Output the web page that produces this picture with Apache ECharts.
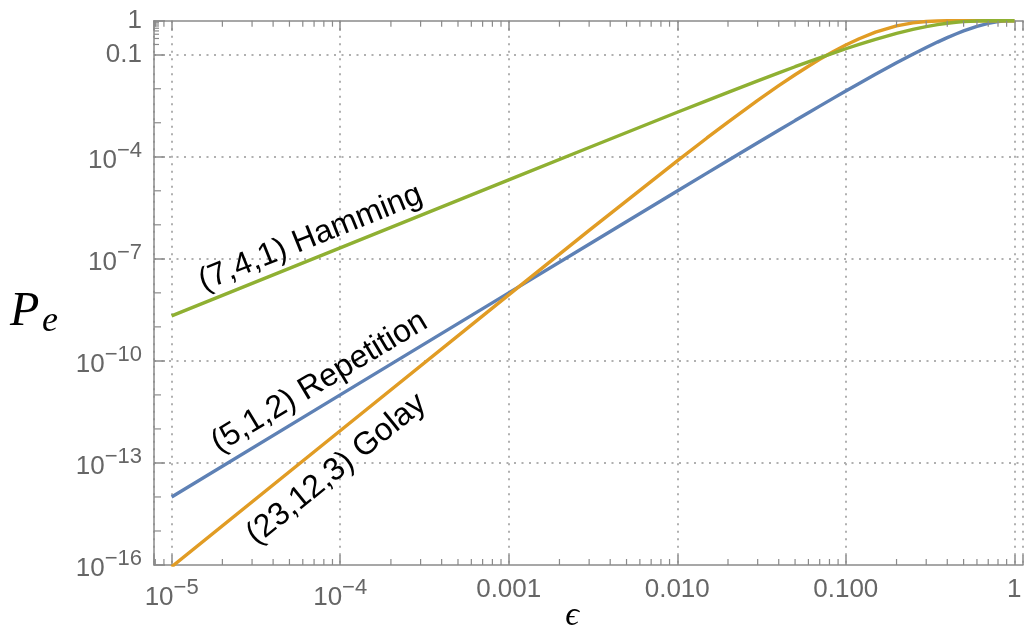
<!DOCTYPE html>
<html>
<head>
<meta charset="utf-8">
<script src="https://cdn.jsdelivr.net/npm/echarts@6/dist/echarts.min.js"></script>
<style>
  html, body { margin: 0; padding: 0; background: #fff; }
  #main { width: 1026px; height: 629px; }
</style>
</head>
<body>
<div id="main"></div>
<script>
// bit error rate eps and block error probability Pe
var eps = [1e-5, 1e-4, 1e-3, 3e-3, 0.01, 0.015, 0.02, 0.03, 0.04, 0.05,
           0.06, 0.07, 0.085, 0.1, 0.12, 0.15, 0.2, 0.25, 0.3, 0.35,
           0.4, 0.45, 0.5, 0.6, 0.7, 0.8, 0.9, 1];
var repetition = [1.0e-14, 1.0e-11, 9.985e-9, 2.688e-7, 9.851e-6, 3.300e-5, 7.762e-5, 2.580e-4, 6.022e-4, 1.158e-3,
                  1.970e-3, 3.080e-3, 5.385e-3, 8.56e-3, 0.01432, 0.02661, 0.05792, 0.1035, 0.1631, 0.2352,
                  0.3174, 0.4069, 0.5, 0.6826, 0.8369, 0.9421, 0.9914, 1];
var golay = [8.85e-17, 8.84e-13, 8.721e-9, 6.853e-7, 7.605e-5, 3.568e-4, 1.045e-3, 4.541e-3, 0.01232, 0.02583,
             0.04596, 0.07313, 0.1264, 0.1927, 0.2953, 0.4603, 0.7035, 0.8630, 0.9462, 0.9819,
             0.9948, 0.99876, 0.99976, 0.999995, 1, 1, 1, 1];
var hamming = [2.1e-9, 2.1e-7, 2.093e-5, 1.871e-4, 2.031e-3, 4.489e-3, 7.857e-3, 0.01709, 0.02938, 0.04438,
               0.06178, 0.08127, 0.1138, 0.1497, 0.2012, 0.2834, 0.4233, 0.5551, 0.6706, 0.7662,
               0.8414, 0.8976, 0.9375, 0.9812, 0.9962, 0.9996, 0.99999, 1];

var curveNames = ['(5,1,2) Repetition', '(23,12,3) Golay', '(7,4,1) Hamming'];
var curveValues = [repetition, golay, hamming];
var curveColors = ['#5e81b5', '#e19c24', '#8fb032'];

// label placement along each curve (eps, Pe) and slant in degrees
var labelAnchors = [[7.53e-5, 2.36e-11], [9.5e-5, 6.5e-14], [6.67e-5, 4.06e-7]];
var labelAngles = [31, 39, 22];

// axes
var X_MIN = 7.858e-6, X_MAX = 1.1256;
var Y_MIN = 1e-16, Y_MAX = 1;
var xTickExps = [-5, -4, -3, -2, -1, 0];
var xTickTexts = ['10^−5', '10^−4', '0.001', '0.010', '0.100', '1'];
var yTickExps = [-16, -13, -10, -7, -4, -1, 0];
var yTickTexts = ['10^−16', '10^−13', '10^−10', '10^−7', '10^−4', '0.1', '1'];

// small ticks
var minorMults = [2, 3, 4, 5, 6, 7, 8, 9];
var minorDecades = [1e-5, 1e-4, 1e-3, 1e-2, 1e-1];
var xLeadTicks = [8e-6, 9e-6];
var yDecadeTicks = [1e-15, 1e-14, 1e-12, 1e-11, 1e-9, 1e-8, 1e-6, 1e-5, 1e-3, 1e-2];
var ySubTicks = [0.2, 0.3, 0.4, 0.5, 0.6, 0.7, 0.8, 0.9];

var AXIS_COLOR = '#8a8a8a';
var LABEL_COLOR = '#666';
var FONT = 'Liberation Sans';

function tickText(txt) {
  if (txt.indexOf('^') >= 0) {
    var parts = txt.split('^');
    return '{b|' + parts[0] + '}{s|' + parts[1] + '}';
  }
  return '{p|' + txt + '}';
}

function labelFor(exps, texts) {
  return function (v) {
    var r = Math.round(v);
    if (Math.abs(v - r) > 1e-6) return '';
    var i = exps.indexOf(r);
    return i < 0 ? '' : tickText(texts[i]);
  };
}

var richTicks = {
  p: { fontSize: 26, lineHeight: 26, fontFamily: FONT, color: LABEL_COLOR },
  b: { fontSize: 26, lineHeight: 34, verticalAlign: 'bottom', fontFamily: FONT, color: LABEL_COLOR },
  s: { fontSize: 22, verticalAlign: 'top', fontFamily: FONT, color: LABEL_COLOR }
};

var dotted = { color: '#b0b0b0', width: 2, type: [2, 5.5] };

// minor tick items: [value, kind]  kind 1 bottom, 2 top, 3 y decade, 4 y sub
var tickData = [];
xLeadTicks.forEach(function (v) { tickData.push([v, 1], [v, 2]); });
minorDecades.forEach(function (d) {
  minorMults.forEach(function (m) { tickData.push([m * d, 1], [m * d, 2]); });
});
yDecadeTicks.forEach(function (v) { tickData.push([v, 3]); });
ySubTicks.forEach(function (v) { tickData.push([v, 4]); });

function renderTick(params, api) {
  var v = api.value(0), kind = api.value(1);
  var p, q;
  if (kind === 1) { p = api.coord([v, Y_MIN]); q = [p[0], p[1] - 6]; }
  else if (kind === 2) { p = api.coord([v, Y_MAX]); q = [p[0], p[1] + 6]; }
  else { p = api.coord([X_MIN, v]); q = [p[0] + (kind === 3 ? 7 : 5), p[1]]; }
  return {
    type: 'line',
    shape: { x1: p[0], y1: p[1], x2: q[0], y2: q[1] },
    style: { stroke: AXIS_COLOR, lineWidth: 1.2 }
  };
}

var series = curveNames.map(function (name, k) {
  return {
    type: 'line',
    name: name,
    xAxisIndex: 0,
    yAxisIndex: 0,
    data: eps.map(function (e, i) { return [e, curveValues[k][i]]; }),
    showSymbol: false,
    symbol: 'none',
    lineStyle: { color: curveColors[k], width: 3.4 },
    itemStyle: { color: curveColors[k] },
    clip: true,
    z: 3
  };
});

series.push({
  type: 'scatter',
  xAxisIndex: 0,
  yAxisIndex: 0,
  symbolSize: 0,
  silent: true,
  z: 6,
  itemStyle: { opacity: 1 },
  data: labelAnchors.map(function (a, i) {
    return { name: curveNames[i], value: a, label: { rotate: labelAngles[i] } };
  }),
  label: {
    show: true,
    position: 'inside',
    formatter: '{b}',
    color: '#000',
    opacity: 1,
    textBorderWidth: 0,
    fontSize: 32,
    fontFamily: FONT
  }
});

series.push({
  type: 'custom',
  xAxisIndex: 0,
  yAxisIndex: 0,
  silent: true,
  clip: false,
  z: 4,
  data: tickData,
  renderItem: renderTick
});

var myChart = echarts.init(document.getElementById('main'));
myChart.setOption({
  animation: false,
  backgroundColor: '#fff',
  grid: { left: 154, right: 0, top: 20.7, bottom: 64 },
  xAxis: [
    {
      type: 'log', position: 'bottom', min: X_MIN, max: X_MAX, show: false
    },
    {
      type: 'value', position: 'bottom',
      min: Math.log10(X_MIN), max: Math.log10(X_MAX), splitNumber: 5,
      axisLine: { onZero: false, lineStyle: { color: AXIS_COLOR, width: 1.5 } },
      axisTick: { inside: true, length: 10, lineStyle: { color: AXIS_COLOR, width: 1.5 } },
      axisLabel: { margin: 12, formatter: labelFor(xTickExps, xTickTexts), rich: richTicks },
      splitLine: { show: true, lineStyle: dotted }
    },
    {
      type: 'value', position: 'top',
      min: Math.log10(X_MIN), max: Math.log10(X_MAX), splitNumber: 5,
      axisLine: { onZero: false, lineStyle: { color: AXIS_COLOR, width: 1.5 } },
      axisTick: { inside: true, length: 10, lineStyle: { color: AXIS_COLOR, width: 1.5 } },
      axisLabel: { show: false },
      splitLine: { show: false }
    }
  ],
  yAxis: [
    {
      type: 'log', position: 'left', min: Y_MIN, max: Y_MAX, show: false
    },
    {
      type: 'value', position: 'left',
      min: -16, max: 0, interval: 3,
      axisLine: { onZero: false, lineStyle: { color: AXIS_COLOR, width: 1.5 } },
      axisTick: { inside: true, length: 11, lineStyle: { color: AXIS_COLOR, width: 1.5 } },
      axisLabel: { margin: 12, formatter: labelFor(yTickExps, yTickTexts), rich: richTicks },
      splitLine: { show: true, showMinLine: false, showMaxLine: false, lineStyle: dotted }
    }
  ],
  graphic: [
    { type: 'text', x: 10, y: 312, style: { text: 'P', font: 'italic 48px "Liberation Serif"', fill: '#000', verticalAlign: 'middle' } },
    { type: 'text', x: 42, y: 322, style: { text: 'e', font: 'italic 36px "Liberation Serif"', fill: '#000', verticalAlign: 'middle' } },
    { type: 'text', x: 572, y: 616, style: { text: 'ϵ', font: 'italic 34px "Liberation Serif", "DejaVu Serif", serif', fill: '#000', align: 'center', verticalAlign: 'middle' } }
  ],
  series: series
});
</script>
</body>
</html>
